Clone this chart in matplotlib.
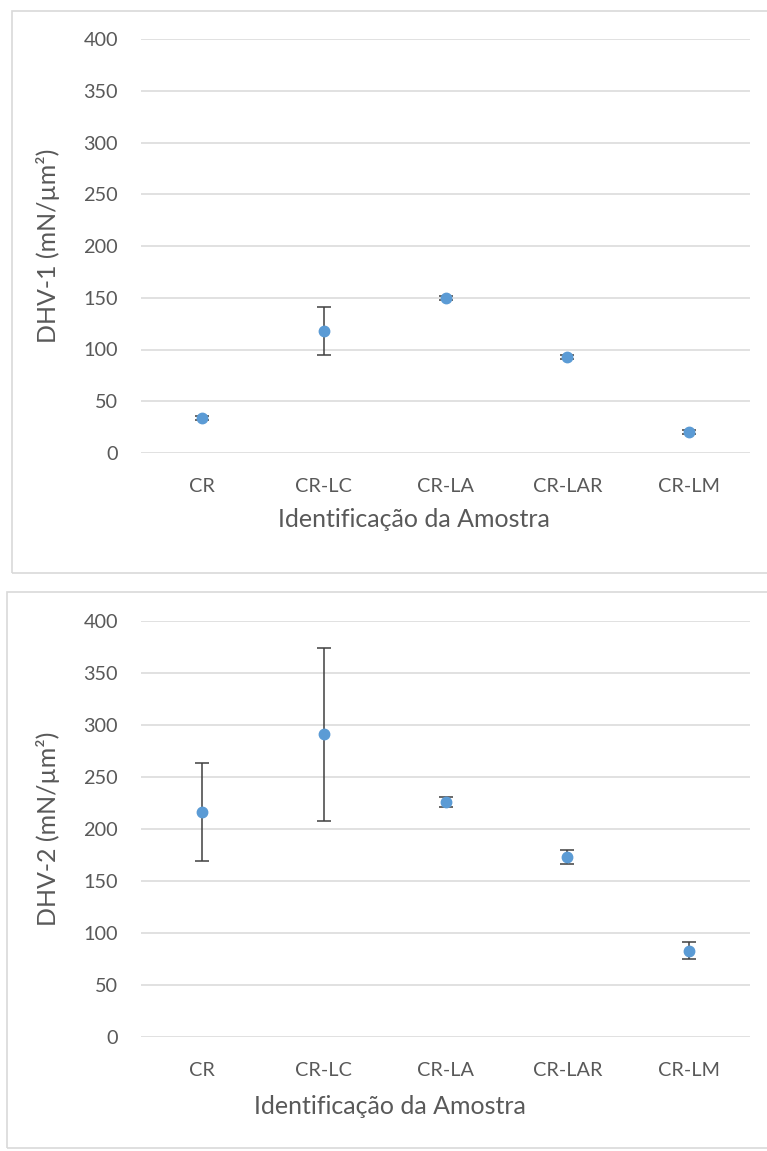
import matplotlib
matplotlib.use("Agg")
import matplotlib.pyplot as plt
from matplotlib.patches import Rectangle

plt.rcParams["font.family"] = ["Lato", "DejaVu Sans"]

samples = ["CR", "CR-LC", "CR-LA", "CR-LAR", "CR-LM"]

dhv1 = [34, 118, 150, 93, 20]
dhv1_err = [2, 23, 2, 2, 2]

dhv2 = [216, 291, 226, 173, 83]
dhv2_err = [47, 83, 5, 7, 8]

ylabels = ["DHV-1 (mN/µm²)", "DHV-2 (mN/µm²)"]
xlabel = "Identificação da Amostra"

W, H = 767, 1151
fig = plt.figure(figsize=(W / 100, H / 100), dpi=100)

# chart frames (px: left, top, right, bottom)
frames = [(12, 11, 780, 573), (7, 592, 780, 1148)]
for l, t, r, b in frames:
    fig.patches.append(Rectangle((l / W, 1 - b / H), (r - l) / W, (b - t) / H,
                                 transform=fig.transFigure, fill=False,
                                 edgecolor="#d9d9d9", linewidth=1.2))

# plot areas (px: left, top, right, bottom) and label placement
areas = [(141, 39, 750, 453), (141, 621, 750, 1037)]
xlabel_pos = [(0.448, -0.133), (0.408, -0.14)]
series = [(dhv1, dhv1_err), (dhv2, dhv2_err)]

grey = "#595959"
for (l, t, r, b), (vals, errs), ylab, xlp in zip(areas, series, ylabels, xlabel_pos):
    ax = fig.add_axes([l / W, 1 - b / H, (r - l) / W, (b - t) / H])
    x = range(len(samples))
    ax.errorbar(x, vals, yerr=errs, fmt="o", color="#5b9bd5", markersize=7.5,
                ecolor="#404040", elinewidth=1.1, capsize=5, capthick=1.1, zorder=3)
    ax.set_xlim(-0.5, len(samples) - 0.5)
    ax.set_ylim(0, 400)
    ax.set_yticks(range(0, 401, 50))
    ax.set_xticks(list(x))
    ax.set_xticklabels(samples)
    ax.grid(axis="y", color="#d9d9d9", linewidth=1.1)
    ax.set_axisbelow(True)
    for s in ax.spines.values():
        s.set_visible(False)
    ax.tick_params(length=0, labelsize=14.3, colors=grey)
    ax.tick_params(axis="y", pad=16.5)
    ax.tick_params(axis="x", pad=18)
    ax.set_ylabel(ylab, fontsize=18, color=grey)
    ax.yaxis.set_label_coords(-0.133, 0.5)
    ax.set_xlabel(xlabel, fontsize=18, color=grey)
    ax.xaxis.set_label_coords(*xlp)

fig.savefig("out.png", dpi=100, facecolor="white")
